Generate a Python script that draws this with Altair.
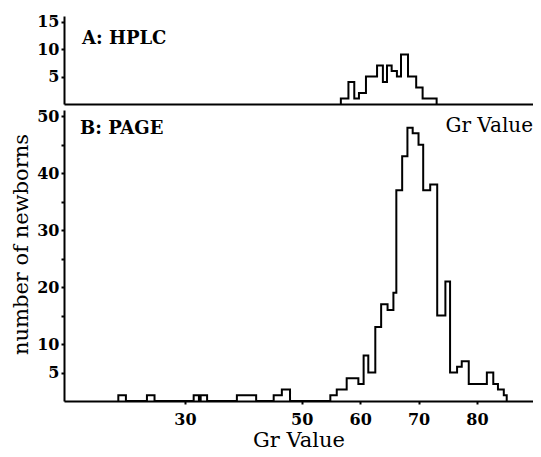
import altair as alt
import pandas as pd

# Panel A (HPLC): left edges of the histogram steps (Gr value) and counts
hplc_edges = [56.7, 58.0, 59.0, 59.8, 61.0, 62.9, 63.9, 64.6, 65.4, 66.3, 67.0, 68.2, 69.6, 70.7, 73.1]
hplc_counts = [1, 4, 1, 2, 5, 7, 4, 7, 6, 5, 9, 5, 3, 1, 0]

# Panel B (PAGE): left edges of the histogram steps (Gr value) and counts
page_edges = [18.6, 19.9, 23.5, 24.8, 31.5, 32.4, 32.7, 33.8, 38.9, 42.2,
              45.2, 46.6, 48.0,
              54.9, 56.0, 57.7, 59.7, 60.6, 61.4, 62.6, 63.6, 64.7, 65.7,
              66.2, 67.2, 68.1, 69.0, 70.0, 70.8, 72.0, 73.2,
              74.6, 75.4, 76.6, 77.4, 78.6, 81.7, 82.8, 83.6, 84.6, 85.1]
page_counts = [1, 0, 1, 0, 1, 0, 1, 0, 1, 0,
               1, 2, 0,
               1, 2, 4, 3, 8, 5, 13, 17, 16, 19,
               37, 43, 48, 47, 45, 37, 38, 15,
               21, 5, 6, 7, 3, 5, 3, 2, 1, 0]

x_ticks = [30, 50, 60, 70, 80]
y_ticks_a = [5, 10, 15]
y_ticks_b = [5, 10, 15, 20, 25, 30, 35, 40, 45, 50]

panel_a_label = ["A: HPLC"]
panel_b_label = ["B: PAGE"]
top_x_title = ["Gr Value"]
x_title = "Gr Value"
y_title = "number of newborns"

XMIN, XMAX = 9.3, 89.6
FONT = "DejaVu Serif"
W = 469


def outline(edges, counts):
    rows = [{"gr": edges[0], "n": 0, "i": 0}]
    for k, (e, c) in enumerate(zip(edges, counts)):
        rows.append({"gr": e, "n": c, "i": k + 1})
    return pd.DataFrame(rows)


df_a = outline(hplc_edges, hplc_counts)
df_b = outline(page_edges, page_counts)

xscale = alt.Scale(domain=[XMIN, XMAX], nice=False, zero=False)

line_a = alt.Chart(df_a).mark_line(interpolate="step-after", color="black", strokeWidth=2).encode(
    x=alt.X("gr:Q", scale=xscale,
            axis=alt.Axis(labels=False, ticks=False, title=None, minExtent=0, maxExtent=0,
                          labelPadding=0, tickSize=0)),
    y=alt.Y("n:Q", scale=alt.Scale(domain=[0, 16], nice=False),
            axis=alt.Axis(values=y_ticks_a, title=None)),
    order="i:Q",
)
text_a = alt.Chart(pd.DataFrame({"t": panel_a_label})).mark_text(
    font=FONT, fontSize=18, fontWeight="bold", align="left", baseline="alphabetic", color="black"
).encode(text="t:N", x=alt.value(18), y=alt.value(28))

top = alt.layer(line_a, text_a).properties(width=W, height=88)

line_b = alt.Chart(df_b).mark_line(interpolate="step-after", color="black", strokeWidth=2).encode(
    x=alt.X("gr:Q", scale=xscale,
            axis=alt.Axis(values=x_ticks, title=x_title, labelPadding=7, titlePadding=2)),
    y=alt.Y("n:Q", scale=alt.Scale(domain=[0, 51.1], nice=False),
            axis=alt.Axis(values=y_ticks_b, title=y_title, titlePadding=5, titleY=134,
                          labelExpr="(datum.value % 10 == 0 || datum.value == 5) ? datum.label : ''")),
    order="i:Q",
)
text_b = alt.Chart(pd.DataFrame({"t": panel_b_label})).mark_text(
    font=FONT, fontSize=18, fontWeight="bold", align="left", baseline="alphabetic", color="black"
).encode(text="t:N", x=alt.value(16), y=alt.value(24))
text_gr = alt.Chart(pd.DataFrame({"t": top_x_title})).mark_text(
    font=FONT, fontSize=20, align="right", baseline="alphabetic", color="black"
).encode(text="t:N", x=alt.value(W), y=alt.value(22))

bottom = alt.layer(line_b, text_b, text_gr).properties(width=W, height=291)

chart = alt.vconcat(top, bottom, spacing=0).properties(
    padding={"left": 2, "top": 5, "right": 0, "bottom": 0}
).configure_axis(
    labelFont=FONT, labelFontSize=16, labelFontWeight="bold", labelColor="black",
    titleFont=FONT, titleFontSize=21, titleFontWeight="normal", titleColor="black",
    domainColor="black", domainWidth=2, tickColor="black", tickWidth=2, tickSize=3,
    labelPadding=2, grid=False,
).configure_view(stroke=None)

chart.save("out.html", embed_options={"renderer": "svg", "actions": False})
